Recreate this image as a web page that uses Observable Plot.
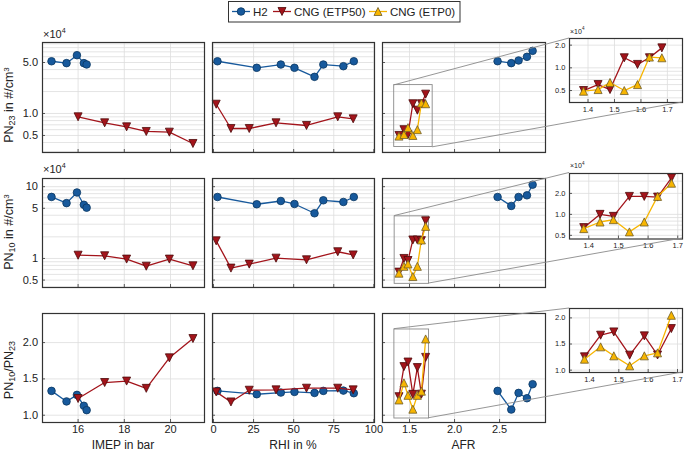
<!DOCTYPE html>
<html><head><meta charset="utf-8">
<script src="https://cdn.jsdelivr.net/npm/d3@7"></script>
<script src="https://cdn.jsdelivr.net/npm/@observablehq/plot@0.6"></script>
<style>
body{margin:0;background:#fff;}
#chart{position:relative;width:685px;height:453px;font-family:"Liberation Sans",Arial,sans-serif;overflow:hidden;}
#chart svg{position:absolute;max-width:none;overflow:visible;}
</style></head>
<body><div id="chart"></div>
<script>
// ---------------- DATA (PN values in units of 1e4 #/cm3) ----------------
// IMEP sweep
const imepH2        = [14.85, 15.5, 15.95, 16.25, 16.37];
const imepH2_PN23   = [5.2, 4.9, 6.3, 4.9, 4.7];
const imepH2_PN10   = [7.2, 5.9, 8.3, 5.6, 5.1];
const imepH2_ratio  = [1.335, 1.19, 1.28, 1.13, 1.07];
const imepCNG       = [16.0, 17.15, 18.1, 18.95, 19.95, 20.97];
const imepCNG_PN23  = [0.90, 0.745, 0.656, 0.567, 0.555, 0.388];
const imepCNG_PN10  = [1.11, 1.09, 0.98, 0.78, 0.98, 0.79];
const imepCNG_ratio = [1.23, 1.45, 1.47, 1.37, 1.79, 2.055];
// RHI sweep
const rhiH2         = [2.5, 27, 42, 50.5, 63, 68.5, 81, 87.5];
const rhiH2_PN23    = [5.2, 4.23, 4.69, 4.23, 3.18, 4.69, 4.45, 5.2];
const rhiH2_PN10    = [7.18, 5.69, 6.32, 5.74, 4.26, 6.46, 6.12, 7.18];
const rhiH2_ratio   = [1.335, 1.289, 1.312, 1.321, 1.307, 1.335, 1.339, 1.303];
const rhiCNG        = [1.7, 10.9, 22.3, 39, 58, 77.5, 87.1];
const rhiCNG_PN23   = [1.34, 0.623, 0.623, 0.745, 0.685, 0.90, 0.845];
const rhiCNG_PN10   = [1.76, 0.734, 0.834, 1.01, 0.958, 1.24, 1.12];
const rhiCNG_ratio  = [1.321, 1.183, 1.344, 1.349, 1.372, 1.372, 1.349];
// AFR sweep
const afrH2         = [2.478, 2.63, 2.711, 2.804, 2.867];
const afrH2_PN23    = [5.21, 4.90, 5.33, 5.98, 7.22];
const afrH2_PN10    = [7.18, 5.39, 7.18, 7.58, 10.66];
const afrH2_ratio   = [1.335, 1.078, 1.307, 1.234, 1.427];
const afrCNG        = [1.383, 1.438, 1.483, 1.537, 1.587, 1.632, 1.679];
const afrETP50_PN23 = [0.50, 0.60, 0.515, 1.36, 1.11, 1.36, 1.84];
const afrETP50_PN10 = [0.645, 1.0, 0.936, 1.81, 1.81, 1.77, 3.34];
const afrETP50_ratio= [1.255, 1.669, 1.732, 1.287, 1.656, 1.29, 1.796];
const afrETP0_PN23  = [0.49, 0.515, 0.64, 0.50, 0.60, 1.39, 1.36];
const afrETP0_PN10  = [0.624, 0.777, 0.839, 0.56, 0.777, 1.81, 2.80];
const afrETP0_ratio = [1.21, 1.446, 1.274, 1.083, 1.274, 1.331, 2.05];

// Tick labels
const pn23Ticks  = [0.5, 1.0, 5.0];
const pn10Ticks  = [0.5, 1, 5, 10];
const ratioTicks = [1.0, 1.5, 2.0];
const imepTicks  = [16, 18, 20];
const rhiTicks   = [0, 25, 50, 75, 100];
const afrTicks   = [1.5, 2.0, 2.5];
const insetXTicks = [1.4, 1.5, 1.6, 1.7];
const insetPNTicks = [0.5, 1.0, 2.0];
const insetRatioTicks = [1.0, 1.5, 2.0];

const seriesNames = ["H2", "CNG (ETP50)", "CNG (ETP0)"];
const xTitles = ["IMEP in bar", "RHI in %", "AFR"];

// ---------------- STYLE / LAYOUT ----------------
function tri(dir) {
  return {draw(ctx, size) {
    const w = Math.sqrt(2 * size), h = w;
    ctx.moveTo(0, -dir * h / 2);
    ctx.lineTo(-w / 2, dir * h / 2);
    ctx.lineTo(w / 2, dir * h / 2);
    ctx.closePath();
  }};
}
const STY = {
  "H2":          {color: "#17599c", edge: "#0a365f", symbol: "circle", r: 3.8},
  "CNG (ETP50)": {color: "#a3141b", edge: "#4d0a0a", symbol: tri(-1), r: 3.2},
  "CNG (ETP0)":  {color: "#f7b500", edge: "#6e5d2a", symbol: tri(1), r: 3.2}
};
const FONT = '"Liberation Sans", Arial, sans-serif';
const colBox = [{x0: 42, x1: 204}, {x0: 212, x1: 374}, {x0: 382, x1: 545}];
const rowBox = [{y0: 42.3, y1: 152.3}, {y0: 177.7, y1: 286.7}, {y0: 312.7, y1: 421.7}];
const insetCol = {x0: 569, x1: 682};
const insetRow = [{y0: 38, y1: 102}, {y0: 172.5, y1: 238}, {y0: 308, y1: 372}];

const rowCfg = [
  {type: "log", domain: [0.292, 9.4], ticks: pn23Ticks, fmt: d3.format(".1f")},
  {type: "log", domain: [0.394, 13.0], ticks: pn10Ticks, fmt: d3.format("~g")},
  {type: "linear", domain: [0.90, 2.40], ticks: ratioTicks, fmt: d3.format(".1f"), grid: ratioTicks}
];
const colCfg = [
  {domain: [14.46, 21.47], ticks: imepTicks, fmt: d3.format("d")},
  {domain: [-0.6, 100.4], ticks: rhiTicks, fmt: d3.format("d")},
  {domain: [1.2, 3.01], ticks: afrTicks, fmt: d3.format(".1f")}
];
const insetCfg = [
  {x: [1.33, 1.757], type: "log", y: [0.347, 2.45], ticks: insetPNTicks},
  {x: [1.335, 1.716], type: "log", y: [0.443, 3.86], ticks: insetPNTicks},
  {x: [1.332, 1.717], type: "linear", y: [0.955, 2.18], ticks: insetRatioTicks, grid: insetRatioTicks}
];

const panelSeries = [
  [ [["H2", imepH2, imepH2_PN23], ["CNG (ETP50)", imepCNG, imepCNG_PN23]],
    [["H2", rhiH2, rhiH2_PN23], ["CNG (ETP50)", rhiCNG, rhiCNG_PN23]],
    [["H2", afrH2, afrH2_PN23], ["CNG (ETP50)", afrCNG, afrETP50_PN23], ["CNG (ETP0)", afrCNG, afrETP0_PN23]] ],
  [ [["H2", imepH2, imepH2_PN10], ["CNG (ETP50)", imepCNG, imepCNG_PN10]],
    [["H2", rhiH2, rhiH2_PN10], ["CNG (ETP50)", rhiCNG, rhiCNG_PN10]],
    [["H2", afrH2, afrH2_PN10], ["CNG (ETP50)", afrCNG, afrETP50_PN10], ["CNG (ETP0)", afrCNG, afrETP0_PN10]] ],
  [ [["H2", imepH2, imepH2_ratio], ["CNG (ETP50)", imepCNG, imepCNG_ratio]],
    [["H2", rhiH2, rhiH2_ratio], ["CNG (ETP50)", rhiCNG, rhiCNG_ratio]],
    [["H2", afrH2, afrH2_ratio], ["CNG (ETP50)", afrCNG, afrETP50_ratio], ["CNG (ETP0)", afrCNG, afrETP0_ratio]] ]
];

const chart = document.getElementById("chart");
const ML = 50, MR = 14, MT = 14, MB = 30;

function seriesMarks(series) {
  const m = [];
  for (const [name, xs, ys] of series) {
    const s = STY[name];
    const pts = xs.map((x, i) => ({x, y: ys[i]}));
    m.push(Plot.line(pts, {x: "x", y: "y", stroke: s.color, strokeWidth: 1.3}));
    m.push(Plot.dot(pts, {x: "x", y: "y", symbol: s.symbol, r: s.r, fill: s.color, stroke: s.edge, strokeWidth: 0.8}));
  }
  return m;
}

function makePanel(o) {
  const w = o.x1 - o.x0, h = o.y1 - o.y0;
  const xd = o.xDomain, yd = o.yDomain;
  const isLog = o.yType === "log";
  const gridY = o.yGrid || d3.scaleLog().domain(yd).ticks();
  const tickLenX = (xd[1] - xd[0]) * 3 / w;
  const yAt = isLog ? k => yd[0] * Math.pow(yd[1] / yd[0], k) : k => yd[0] + (yd[1] - yd[0]) * k;
  const marks = [
    Plot.gridY(gridY, {stroke: "#dddddd", strokeOpacity: 1, strokeWidth: 0.8}),
    Plot.gridX(o.xTicks, {stroke: "#dddddd", strokeOpacity: 1, strokeWidth: 0.8}),
    Plot.ruleY(o.yTicks, {x1: () => xd[0], x2: () => xd[0] + tickLenX, stroke: "#333", strokeWidth: 0.8}),
    Plot.ruleX(o.xTicks, {y1: () => yd[0], y2: () => yAt(3 / h), stroke: "#333", strokeWidth: 0.8})
  ];
  if (o.rect) {
    const r = o.rect;
    marks.push(Plot.rect([0], {x1: () => r.x[0], x2: () => r.x[1], y1: () => r.y[0], y2: () => r.y[1],
      fill: "none", stroke: "#8a8a8a", strokeWidth: 0.9}));
  }
  marks.push(...seriesMarks(o.series));
  marks.push(Plot.frame({stroke: "#333", strokeWidth: 1.2}));
  if (o.yLabels) marks.push(Plot.text(o.yTicks, {x: () => xd[0], y: d => d, text: o.yFmt, textAnchor: "end",
    dx: -o.pad, fontSize: o.fs, fill: "#222"}));
  if (o.xLabels) marks.push(Plot.text(o.xTicks, {x: d => d, y: () => yd[0], text: o.xFmt, lineAnchor: "top",
    dy: o.padX, fontSize: o.fs, fill: "#222"}));
  const svg = Plot.plot({
    width: w + ML + MR, height: h + MT + MB,
    marginLeft: ML, marginRight: MR, marginTop: MT, marginBottom: MB,
    x: {domain: xd, type: "linear", axis: null, label: null},
    y: {domain: yd, type: o.yType, axis: null, label: null},
    style: {background: "none", fontFamily: FONT, color: "#222", overflow: "visible"},
    marks
  });
  svg.style.left = (o.x0 - ML) + "px";
  svg.style.top = (o.y0 - MT) + "px";
  chart.appendChild(svg);
  return {svg, left: o.x0 - ML, top: o.y0 - MT, w, h};
}

const mains = [], insets = [];
for (let r = 0; r < 3; r++) {
  mains.push([]);
  for (let c = 0; c < 3; c++) {
    mains[r].push(makePanel({
      x0: colBox[c].x0, x1: colBox[c].x1, y0: rowBox[r].y0, y1: rowBox[r].y1,
      xDomain: colCfg[c].domain, yDomain: rowCfg[r].domain, yType: rowCfg[r].type,
      xTicks: colCfg[c].ticks, yTicks: rowCfg[r].ticks, yGrid: rowCfg[r].grid,
      yFmt: rowCfg[r].fmt, xFmt: colCfg[c].fmt,
      yLabels: c === 0, xLabels: r === 2, fs: 11, pad: 4.5, padX: 2.5,
      series: panelSeries[r][c],
      rect: c === 2 ? insetCfg[r] : null
    }));
  }
  const ic = insetCfg[r];
  insets.push(makePanel({
    x0: insetCol.x0, x1: insetCol.x1, y0: insetRow[r].y0, y1: insetRow[r].y1,
    xDomain: ic.x, yDomain: ic.y, yType: ic.type,
    xTicks: insetXTicks, yTicks: ic.ticks, yGrid: ic.grid,
    yFmt: d3.format(".1f"), xFmt: d3.format(".1f"),
    yLabels: true, xLabels: true, fs: 7.5, pad: 4, padX: 4,
    series: panelSeries[r][2].filter(s => s[0] !== "H2")
  }));
}

// ---------------- OVERLAY: connectors, labels, legend ----------------
const ov = d3.select(chart).append("svg").attr("width", 685).attr("height", 453)
  .style("left", "0px").style("top", "0px").style("pointer-events", "none")
  .style("font-family", FONT);

function px(panel, axis, v) {
  const s = panel.svg.scale(axis);
  return (axis === "x" ? panel.left : panel.top) + s.apply(v);
}
for (let r = 0; r < 3; r++) {
  const ic = insetCfg[r], m = mains[r][2], ins = insets[r];
  const segs = [
    [[px(m, "x", ic.x[0]), px(m, "y", ic.y[1])], [px(ins, "x", ic.x[0]), px(ins, "y", ic.y[1])]],
    [[px(m, "x", ic.x[1]), px(m, "y", ic.y[0])], [px(ins, "x", ic.x[1]), px(ins, "y", ic.y[0])]]
  ];
  for (const [a, b] of segs) {
    ov.append("line").attr("x1", a[0]).attr("y1", a[1]).attr("x2", b[0]).attr("y2", b[1])
      .attr("stroke", "#8a8a8a").attr("stroke-width", 0.9);
  }
}

function times10(x, y, fs) {
  const t = ov.append("text").attr("x", x).attr("y", y).attr("font-size", fs).attr("fill", "#222");
  t.append("tspan").text("×10");
  t.append("tspan").attr("dy", -fs * 0.45).attr("font-size", fs * 0.65).text("4");
}
times10(43, rowBox[0].y0 - 4.5, 11);
times10(43, rowBox[1].y0 - 4.5, 11);
times10(570, insetRow[0].y0 - 4.5, 7);
times10(570, insetRow[1].y0 - 4.5, 7);

function yTitle(cy, parts) {
  const t = ov.append("text").attr("transform", `translate(12.5,${cy}) rotate(-90)`)
    .attr("text-anchor", "middle").attr("font-size", 12.5).attr("fill", "#222");
  for (const [txt, kind] of parts) {
    const sp = t.append("tspan").text(txt);
    if (kind === "sub") sp.attr("font-size", 9).attr("baseline-shift", "-25%");
    if (kind === "sup") sp.attr("font-size", 8).attr("baseline-shift", "45%");
  }
}
yTitle(105, [["PN"], ["23", "sub"], [" in #/cm"], ["3", "sup"]]);
yTitle(232, [["PN"], ["10", "sub"], [" in #/cm"], ["3", "sup"]]);
yTitle(370, [["PN"], ["10", "sub"], ["/PN"], ["23", "sub"]]);

xTitles.forEach((t, c) => {
  ov.append("text").attr("x", (colBox[c].x0 + colBox[c].x1) / 2).attr("y", 449)
    .attr("text-anchor", "middle").attr("font-size", 12).attr("fill", "#222").text(t);
});

// legend
const lg = ov.append("g");
lg.append("rect").attr("x", 228.5).attr("y", 1.5).attr("width", 231.5).attr("height", 20.5)
  .attr("fill", "#fff").attr("stroke", "#333").attr("stroke-width", 1);
const lgX = [232, 273, 369];
seriesNames.forEach((name, i) => {
  const s = STY[name], x = lgX[i], y = 11.5;
  lg.append("line").attr("x1", x).attr("x2", x + 18).attr("y1", y).attr("y2", y)
    .attr("stroke", s.color).attr("stroke-width", 1.3);
  const type = s.symbol === "circle" ? d3.symbolCircle : s.symbol;
  lg.append("path").attr("d", d3.symbol(type, Math.PI * s.r * s.r)())
    .attr("transform", `translate(${x + 9},${y})`).attr("fill", s.color)
    .attr("stroke", s.edge).attr("stroke-width", 0.8);
  lg.append("text").attr("x", x + 21).attr("y", 15.8).attr("font-size", 11.5).attr("fill", "#222").text(name);
});
</script></body></html>
